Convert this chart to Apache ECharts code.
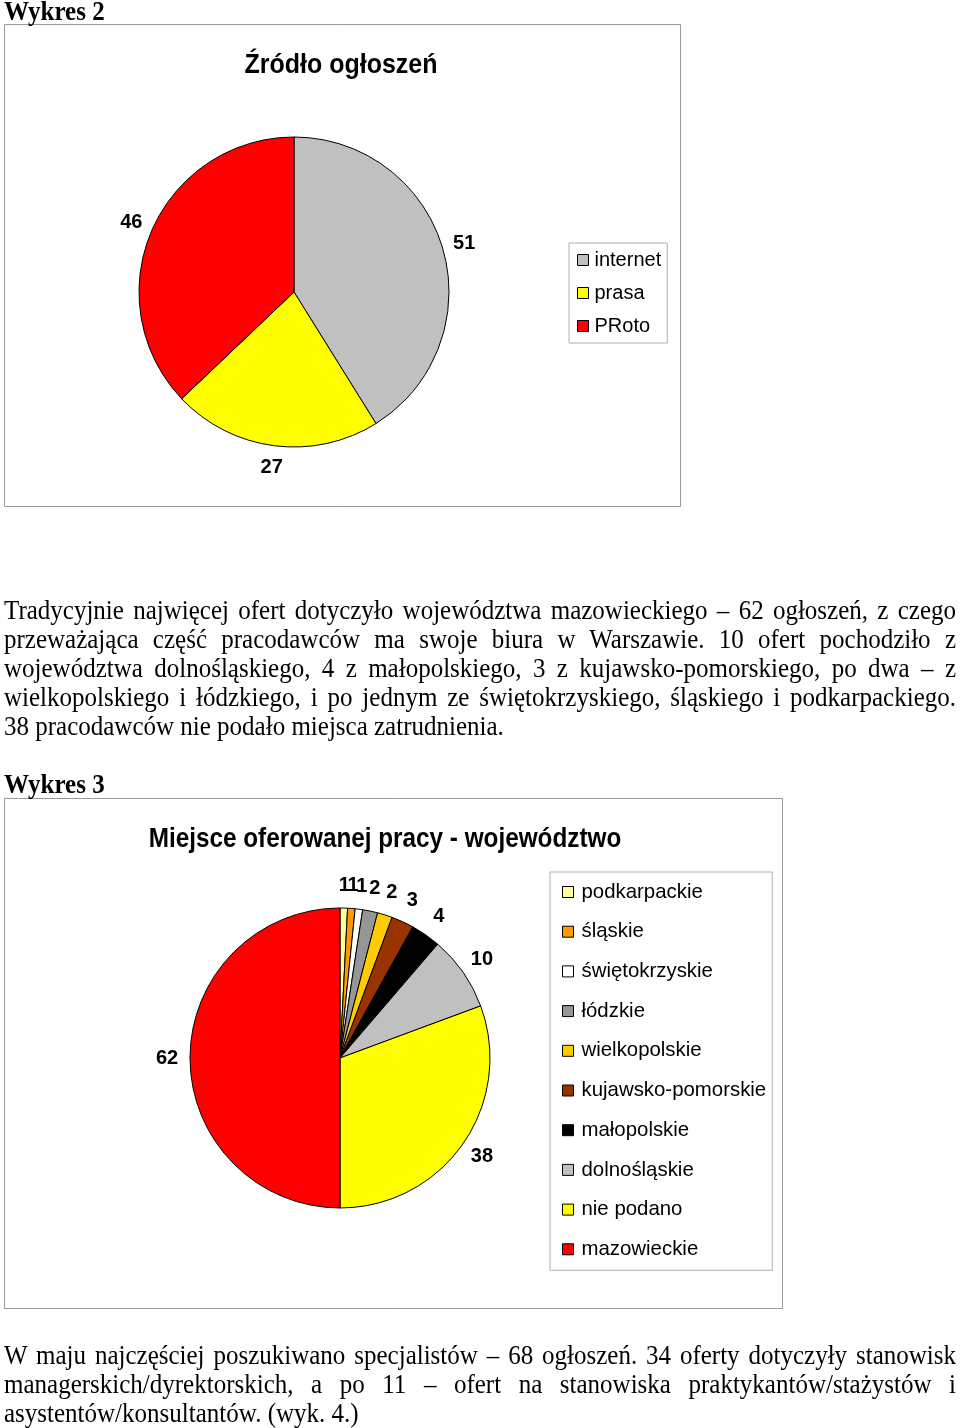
<!DOCTYPE html>
<html>
<head>
<meta charset="utf-8">
<script src="https://cdn.jsdelivr.net/npm/echarts@6/dist/echarts.min.js"></script>
<style>
  html, body { margin: 0; padding: 0; background: #fff; }
  #page { position: relative; width: 960px; height: 1428px; overflow: hidden; }
  #chart { position: absolute; left: 0; top: 0; width: 960px; height: 1428px; }
  .txt { position: absolute; left: 4px; white-space: nowrap; font-family: "Liberation Serif", "Times New Roman", serif; font-size: 25px; line-height: 29px; color: #000; transform-origin: 0 50%; transform: scaleY(1.12); }
  .hd { position: absolute; left: 4px; white-space: nowrap; font-family: "Liberation Serif", "Times New Roman", serif; font-size: 25px; font-weight: bold; line-height: 24px; color: #000; transform-origin: 0 50%; transform: scaleY(1.12); }
</style>
</head>
<body>
<div id="page">
  <div id="chart"></div>
</div>
<script>
// ---------- data ----------
const chart1Title = 'Źródło ogłoszeń';
const chart1Names = ['internet', 'prasa', 'PRoto'];
const chart1Values = [51, 27, 46];

const chart2Title = 'Miejsce oferowanej pracy - województwo';
const chart2Names = ['podkarpackie', 'śląskie', 'świętokrzyskie', 'łódzkie', 'wielkopolskie',
  'kujawsko-pomorskie', 'małopolskie', 'dolnośląskie', 'nie podano', 'mazowieckie'];
const chart2Values = [1, 1, 1, 2, 2, 3, 4, 10, 38, 62];

const heading1 = 'Wykres 2';
const heading2 = 'Wykres 3';
const paragraph1 = [
  'Tradycyjnie najwięcej ofert dotyczyło województwa mazowieckiego – 62 ogłoszeń, z czego',
  'przeważająca część pracodawców ma swoje biura w Warszawie. 10 ofert pochodziło z',
  'województwa dolnośląskiego, 4 z małopolskiego, 3 z kujawsko-pomorskiego, po dwa – z',
  'wielkopolskiego i łódzkiego, i po jednym ze świętokrzyskiego, śląskiego i podkarpackiego.',
  '38 pracodawców nie podało miejsca zatrudnienia.'
];
const paragraph2 = [
  'W maju najczęściej poszukiwano specjalistów – 68 ogłoszeń. 34 oferty dotyczyły stanowisk',
  'managerskich/dyrektorskich, a po 11 – ofert na stanowiska praktykantów/stażystów i',
  'asystentów/konsultantów. (wyk. 4.)'
];

// ---------- styles ----------
const colors1 = ['#C0C0C0', '#FFFF00', '#FF0000'];
const colors2 = ['#FFFF99', '#FF9900', '#FFFFFF', '#969696', '#FFCC00',
  '#993300', '#000000', '#C0C0C0', '#FFFF00', '#FF0000'];
const SANS = '"Liberation Sans", Arial, sans-serif';

// ---------- text blocks (justified) ----------
const page = document.getElementById('page');
function addLines(lines, centers, justifyLast) {
  lines.forEach((t, i) => {
    const d = document.createElement('div');
    d.className = 'txt';
    d.textContent = t;
    d.style.top = (centers[i] - 15) + 'px';
    page.appendChild(d);
    const isLast = i === lines.length - 1;
    if (!isLast || justifyLast) {
      const w = d.getBoundingClientRect().width;
      const spaces = (t.match(/ /g) || []).length;
      if (spaces > 0) d.style.wordSpacing = ((952 - w) / spaces) + 'px';
    }
  });
}
function addHeading(t, center) {
  const d = document.createElement('div');
  d.className = 'hd';
  d.textContent = t;
  d.style.top = (center - 12) + 'px';
  page.appendChild(d);
}
addHeading(heading1, 11);
addHeading(heading2, 784);
addLines(paragraph1, [610, 639, 668, 697, 726], false);
addLines(paragraph2, [1355, 1384, 1413], false);

// ---------- chart ----------
function mkData(names, values, colors) {
  return names.map((n, i) => ({ name: n, value: values[i], itemStyle: { color: colors[i] } }));
}
function ghostData(names, values) {
  return names.map((n, i) => ({ name: n, value: values[i] }));
}
const pieBase = {
  type: 'pie',
  startAngle: 90,
  clockwise: true,
  avoidLabelOverlap: false,
  silent: true,
  emphasis: { disabled: true },
  label: { show: false },
  labelLine: { show: false },
  itemStyle: { borderColor: '#000', borderWidth: 1 }
};
const ghostBase = {
  type: 'pie',
  startAngle: 90,
  clockwise: true,
  avoidLabelOverlap: false,
  silent: true,
  emphasis: { disabled: true },
  itemStyle: { color: 'rgba(0,0,0,0)', borderWidth: 0 },
  labelLine: { show: false },
  labelLayout: { hideOverlap: false },
  label: {
    show: true, position: 'inside', formatter: '{c}',
    color: '#000', fontFamily: SANS, fontWeight: 'bold', fontSize: 20
  }
};

const chart = echarts.init(document.getElementById('chart'), null, { renderer: 'canvas' });
chart.setOption({
  animation: false,
  backgroundColor: 'transparent',
  graphic: [
    { type: 'rect', shape: { x: 4.5, y: 24.5, width: 676, height: 482 },
      style: { fill: 'none', stroke: '#9a9a9a', lineWidth: 1 }, silent: true },
    { type: 'rect', shape: { x: 4.5, y: 798.5, width: 778, height: 510 },
      style: { fill: 'none', stroke: '#9a9a9a', lineWidth: 1 }, silent: true },
    { type: 'text', x: 341, y: 65, scaleY: 1.12,
      style: { text: chart1Title, font: 'bold 25px ' + SANS, fill: '#000', textAlign: 'center', textVerticalAlign: 'middle' } },
    { type: 'text', x: 385, y: 840, scaleY: 1.12,
      style: { text: chart2Title, font: 'bold 24.3px ' + SANS, fill: '#000', textAlign: 'center', textVerticalAlign: 'middle' } }
  ],
  legend: [
    {
      orient: 'vertical', left: 569, top: 243,
      data: chart1Names,
      icon: 'rect', itemWidth: 11, itemHeight: 11, itemGap: 13,
      padding: [7, 6, 7, 8],
      borderColor: '#b0b0b0', borderWidth: 1,
      selectedMode: false,
      itemStyle: { borderColor: '#000', borderWidth: 1 },
      textStyle: { fontFamily: SANS, fontSize: 20, color: '#000', padding: [0, 0, 0, 1] }
    },
    {
      orient: 'vertical', left: 550, top: 872,
      data: chart2Names,
      icon: 'rect', itemWidth: 11, itemHeight: 11, itemGap: 19.7,
      padding: [10, 6, 11, 12],
      borderColor: '#b0b0b0', borderWidth: 1,
      selectedMode: false,
      itemStyle: { borderColor: '#000', borderWidth: 1 },
      textStyle: { fontFamily: SANS, fontSize: 20.4, color: '#000', padding: [0, 0, 0, 3] }
    }
  ],
  series: [
    Object.assign({}, pieBase, {
      name: 'chart1', center: [294, 292], radius: [0, 155],
      data: mkData(chart1Names, chart1Values, colors1)
    }),
    Object.assign({}, pieBase, {
      name: 'chart2', center: [340, 1058], radius: [0, 150],
      data: mkData(chart2Names, chart2Values, colors2)
    }),
    Object.assign({}, ghostBase, {
      name: 'chart1labels', center: [294, 292], radius: [156, 192],
      data: ghostData(chart1Names, chart1Values)
    }),
    Object.assign({}, ghostBase, {
      name: 'chart2labels', center: [340, 1058], radius: [150, 190],
      data: ghostData(chart2Names, chart2Values)
    })
  ]
});
</script>
</body>
</html>
